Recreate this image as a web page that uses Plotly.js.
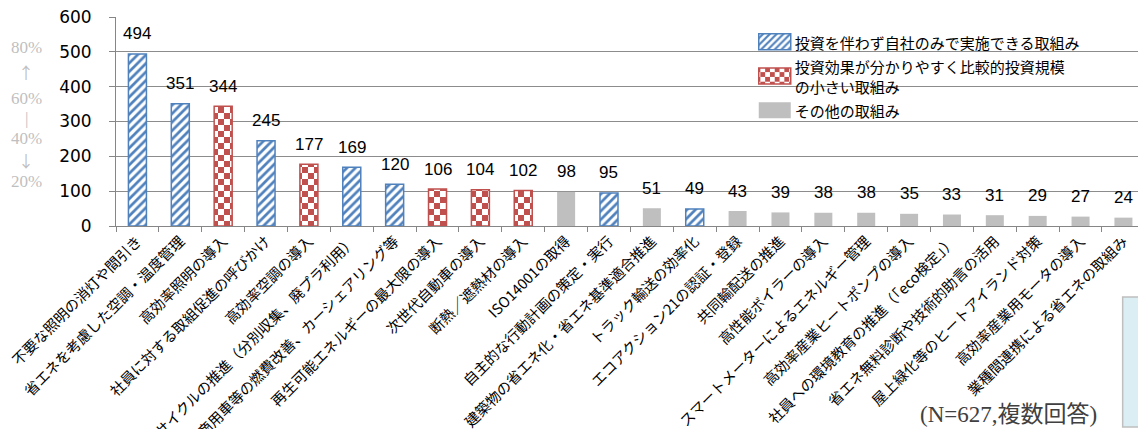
<!DOCTYPE html>
<html>
<head>
<meta charset="utf-8">
<script src="https://cdn.plot.ly/plotly-3.0.1.min.js"></script>
<style>
html,body{margin:0;padding:0;background:#fff;}
#chart{width:1138px;height:429px;}
</style>
</head>
<body>
<div id="chart"></div>
<script>
// ---- data ----
const categories = [
  "不要な照明の消灯や間引き",
  "省エネを考慮した空調・温度管理",
  "高効率照明の導入",
  "社員に対する取組促進の呼びかけ",
  "高効率空調の導入",
  "リサイクルの推進（分別収集、廃プラ利用）",
  "商用車等の燃費改善、カーシェアリング等",
  "再生可能エネルギーの最大限の導入",
  "次世代自動車の導入",
  "断熱／遮熱材の導入",
  "ISO14001の取得",
  "自主的な行動計画の策定・実行",
  "建築物の省エネ化・省エネ基準適合推進",
  "トラック輸送の効率化",
  "エコアクション21の認証・登録",
  "共同輸配送の推進",
  "高性能ボイラーの導入",
  "スマートメーターによるエネルギー管理",
  "高効率産業ヒートポンプの導入",
  "社員への環境教育の推進（「eco検定」）",
  "省エネ無料診断や技術的助言の活用",
  "屋上緑化等のヒートアイランド対策",
  "高効率産業用モータの導入",
  "業種間連携による省エネの取組み"
];
const values = [494, 351, 344, 245, 177, 169, 120, 106, 104, 102, 98, 95, 51, 49, 43, 39, 38, 38, 35, 33, 31, 29, 27, 24];
// group of each category: 0 = no investment, 1 = small investment, 2 = other
const groupOf = [0, 0, 1, 0, 1, 0, 0, 1, 1, 1, 2, 0, 2, 0, 2, 2, 2, 2, 2, 2, 2, 2, 2, 2];
const groupNames = [
  "投資を伴わず自社のみで実施できる取組み",
  "投資効果が分かりやすく比較的投資規模<br>の小さい取組み",
  "その他の取組み"
];
const sideScaleLabels = ["80%", "↑", "60%", "|", "40%", "↓", "20%"];
const noteText = "(N=627,複数回答)";

// ---- styles ----
const BLUE = "rgb(79, 129, 189)";
const RED = "rgb(192, 80, 77)";
const GRAY = "rgb(191, 191, 191)";
const CJK = "Noto Sans CJK JP, sans-serif";

const styles = [
  {marker: {color: "white", line: {color: BLUE, width: 1.5},
            pattern: {shape: "/", fgcolor: BLUE, bgcolor: "white", size: 6, solidity: 0.45, fillmode: "replace"}}},
  {marker: {color: "white", line: {color: RED, width: 1.5},
            pattern: {shape: ".", fgcolor: RED, bgcolor: "white", size: 12, solidity: 0.3, fillmode: "replace"}}},
  {marker: {color: GRAY, line: {color: GRAY, width: 0}}}
];

const traces = groupNames.map((name, g) => {
  const xs = [], ys = [];
  categories.forEach((c, i) => { if (groupOf[i] === g) { xs.push(c); ys.push(values[i]); } });
  return Object.assign({
    type: "bar", name: name, x: xs, y: ys, width: 0.42,
    hoverinfo: "x+y", legendgroup: "g" + g
  }, styles[g]);
});

const annotations = categories.map((c, i) => ({
  x: c, y: values[i], xref: "x", yref: "y",
  text: String(values[i]), showarrow: false,
  yanchor: "middle", yshift: 20,
  font: {family: "Liberation Sans, Arial, sans-serif", size: 17, color: "#000"}
}));

const sideY = [0.856, 0.737, 0.612, 0.512, 0.421, 0.316, 0.211];
sideScaleLabels.forEach((t, i) => {
  const isArrow = (t === "↑" || t === "↓");
  annotations.push({
    x: -0.088, y: sideY[i], xref: "paper", yref: "paper",
    text: t, showarrow: false, xanchor: "center", yanchor: "middle",
    font: {family: isArrow ? "Noto Sans CJK JP, DejaVu Serif, serif" : "Liberation Serif, DejaVu Serif, serif",
           size: isArrow ? 16 : 17, color: "#BFBFBF"}
  });
});
annotations.push({
  x: 0.873, y: -0.9, xref: "paper", yref: "paper",
  text: noteText, showarrow: false, xanchor: "center", yanchor: "middle",
  font: {family: "Liberation Serif, Noto Sans CJK JP, serif", size: 23, color: "#404040"}
});

const layout = {
  width: 1138, height: 429,
  margin: {l: 116, r: 0, t: 17, b: 203, pad: 0},
  paper_bgcolor: "white", plot_bgcolor: "white",
  barmode: "overlay",
  showlegend: true,
  legend: {
    x: 0.625, y: 0.955, xanchor: "left", yanchor: "top",
    bgcolor: "rgba(0,0,0,0)", borderwidth: 0,
    font: {family: CJK, size: 15, color: "#000"},
    traceorder: "grouped", tracegroupgap: 2, itemwidth: 30
  },
  xaxis: {
    type: "category",
    categoryorder: "array", categoryarray: categories,
    range: [-0.5, 23.34],
    tickangle: -45,
    tickson: "boundaries",
    ticks: "outside", ticklen: 5, tickcolor: "#868686", tickwidth: 1,
    showline: true, linecolor: "#868686", linewidth: 1,
    showgrid: false,
    tickfont: {family: CJK, size: 14.6, color: "#000"},
    automargin: false
  },
  yaxis: {
    range: [0, 600], dtick: 100, tick0: 0,
    ticks: "outside", ticklen: 6, tickcolor: "#868686",
    showline: true, linecolor: "#868686", linewidth: 1,
    showgrid: true, gridcolor: "#8C8C8C", gridwidth: 1,
    zeroline: false,
    ticklabelstandoff: 14,
    tickfont: {family: "DejaVu Sans, sans-serif", size: 17, color: "#000"},
    automargin: false
  },
  shapes: [{
    type: "rect", xref: "paper", yref: "paper",
    x0: 0.985, x1: 1.05, y0: -0.962, y1: -0.34,
    fillcolor: "#DAEEF3", line: {color: "#BFBFBF", width: 1.5}
  }],
  annotations: annotations
};

function restyleSvg() {
  const SVGNS = "http://www.w3.org/2000/svg";
  // checkerboard fill for the "small investment" bars
  document.querySelectorAll("#chart pattern").forEach(p => {
    if (!p.querySelector("circle")) return;
    const s = 6;
    while (p.firstChild) p.removeChild(p.firstChild);
    p.setAttribute("width", 2 * s);
    p.setAttribute("height", 2 * s);
    const mk = (x, y, fill) => {
      const r = document.createElementNS(SVGNS, "rect");
      r.setAttribute("x", x); r.setAttribute("y", y);
      r.setAttribute("width", s); r.setAttribute("height", s);
      r.setAttribute("fill", fill);
      p.appendChild(r);
    };
    mk(0, 0, RED); mk(s, 0, "white"); mk(0, s, "white"); mk(s, s, RED);
  });
  // wider legend swatches, as in the reference
  document.querySelectorAll("#chart .legend .legendpoints path").forEach(el => {
    el.setAttribute("d", "M16,7H-16V-9H16Z");
  });
}

Plotly.newPlot("chart", traces, layout, {displayModeBar: false, responsive: false}).then(restyleSvg);
</script>
</body>
</html>
